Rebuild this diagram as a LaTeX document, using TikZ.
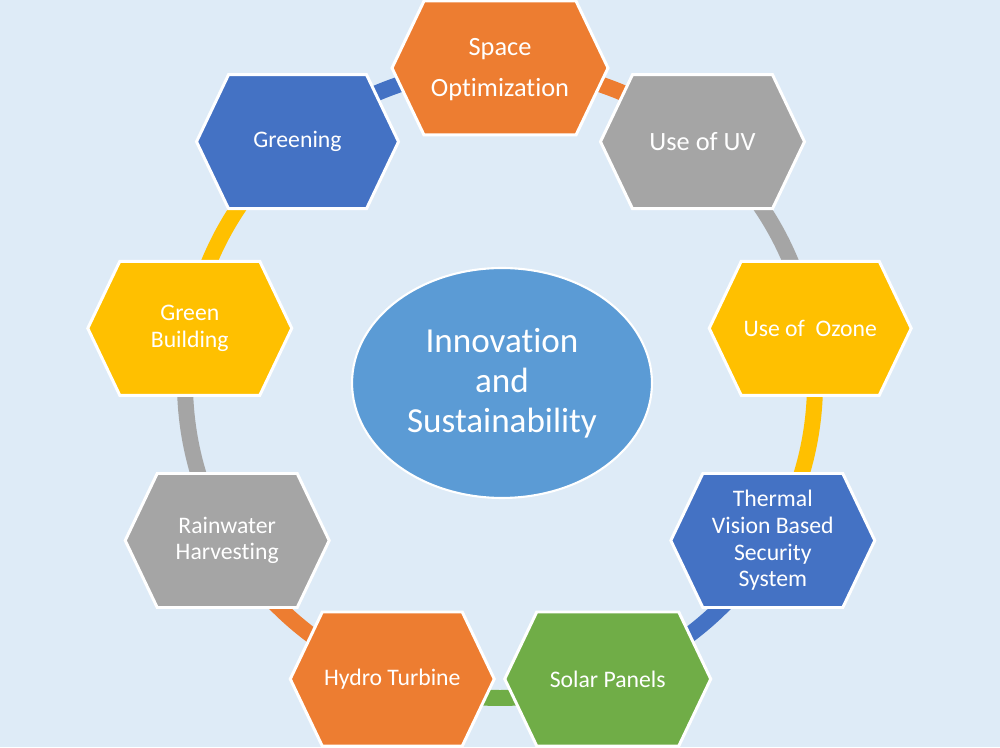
\documentclass[tikz,border=0pt]{standalone}
\usepackage{fontspec}
\setmainfont[Ligatures=NoCommon]{Carlito}
\usetikzlibrary{calc,shapes.geometric}
\definecolor{bgblue}{HTML}{DEEBF7}
\definecolor{hexorange}{HTML}{ED7D31}
\definecolor{hexgray}{HTML}{A5A5A5}
\definecolor{hexgold}{HTML}{FFC000}
\definecolor{hexblue}{HTML}{4472C4}
\definecolor{hexgreen}{HTML}{70AD47}
\definecolor{coreblue}{HTML}{5B9BD5}
\tikzset{
  hexborder/.style={draw=white, line width=1.7pt, line join=miter},
  hexlabel/.style={text=white, align=center, inner sep=0pt, font=\fontsize{13.5}{15.2}\selectfont},
  ringarc/.style={line width=9.1pt},
  corenode/.style={ellipse, draw=white, line width=1.2pt, fill=coreblue, text=white, align=center,
    minimum width=6cm, minimum height=4.6cm, inner sep=0pt, font=\fontsize{20}{22.7}\selectfont},
}
\newcommand\hexagonat[3]{%
  \begin{scope}[shift={(#1)}]
    \filldraw[fill=#3, hexborder] (-#2,0) -- ({-#2+32},67) -- ({#2-32},67) -- (#2,0)
      -- ({#2-32},-67) -- ({-#2+32},-67) -- cycle;
  \end{scope}}
\begin{document}
\begin{tikzpicture}[x=0.02cm,y=0.02cm]
\fill[bgblue] (0,0) rectangle (1000,747);
\useasboundingbox (0,0) rectangle (1000,747);
\coordinate (O) at (500,364);
\foreach \k in {0,...,8} \coordinate (c\k) at ($(O)+({90-40*\k}:315)$);
% ring segments
\foreach \k/\col in {0/hexorange,1/hexgray,2/hexgold,3/hexblue,4/hexgreen,5/hexorange,6/hexgray,7/hexgold,8/hexblue}
  \draw[ringarc, \col] (c\k) arc[start angle={90-40*\k}, end angle={50-40*\k}, radius=315];
% centre
\node[corenode] (core) at (502,364) {Innovation\\and\\Sustainability};
% hexagons
\hexagonat{c0}{108}{hexorange}
\hexagonat{c1}{102}{hexgray}
\hexagonat{c2}{101}{hexgold}
\hexagonat{c3}{102}{hexblue}
\hexagonat{c4}{103}{hexgreen}
\hexagonat{c5}{102}{hexorange}
\hexagonat{c6}{102}{hexgray}
\hexagonat{c7}{102}{hexgold}
\hexagonat{c8}{101}{hexblue}
% labels
\node[hexlabel, font=\fontsize{15}{23.3}\selectfont] (space) at ($(c0)+(0,-2)$) {Space\\Optimization};
\node[hexlabel, font=\fontsize{15}{17}\selectfont] (uv) at (c1) {Use of UV};
\node[hexlabel] (ozone) at (c2) {Use of\ \ Ozone};
\node[hexlabel] (thermal) at (c3) {Thermal\\Vision Based\\Security\\System};
\node[hexlabel] (solar) at (c4) {Solar Panels};
\node[hexlabel] (hydro) at (c5) {Hydro Turbine};
\node[hexlabel] (rain) at (c6) {Rainwater\\Harvesting};
\node[hexlabel] (gbuild) at (c7) {Green\\Building};
\node[hexlabel] (greening) at (c8) {Greening};
\end{tikzpicture}
\end{document}
